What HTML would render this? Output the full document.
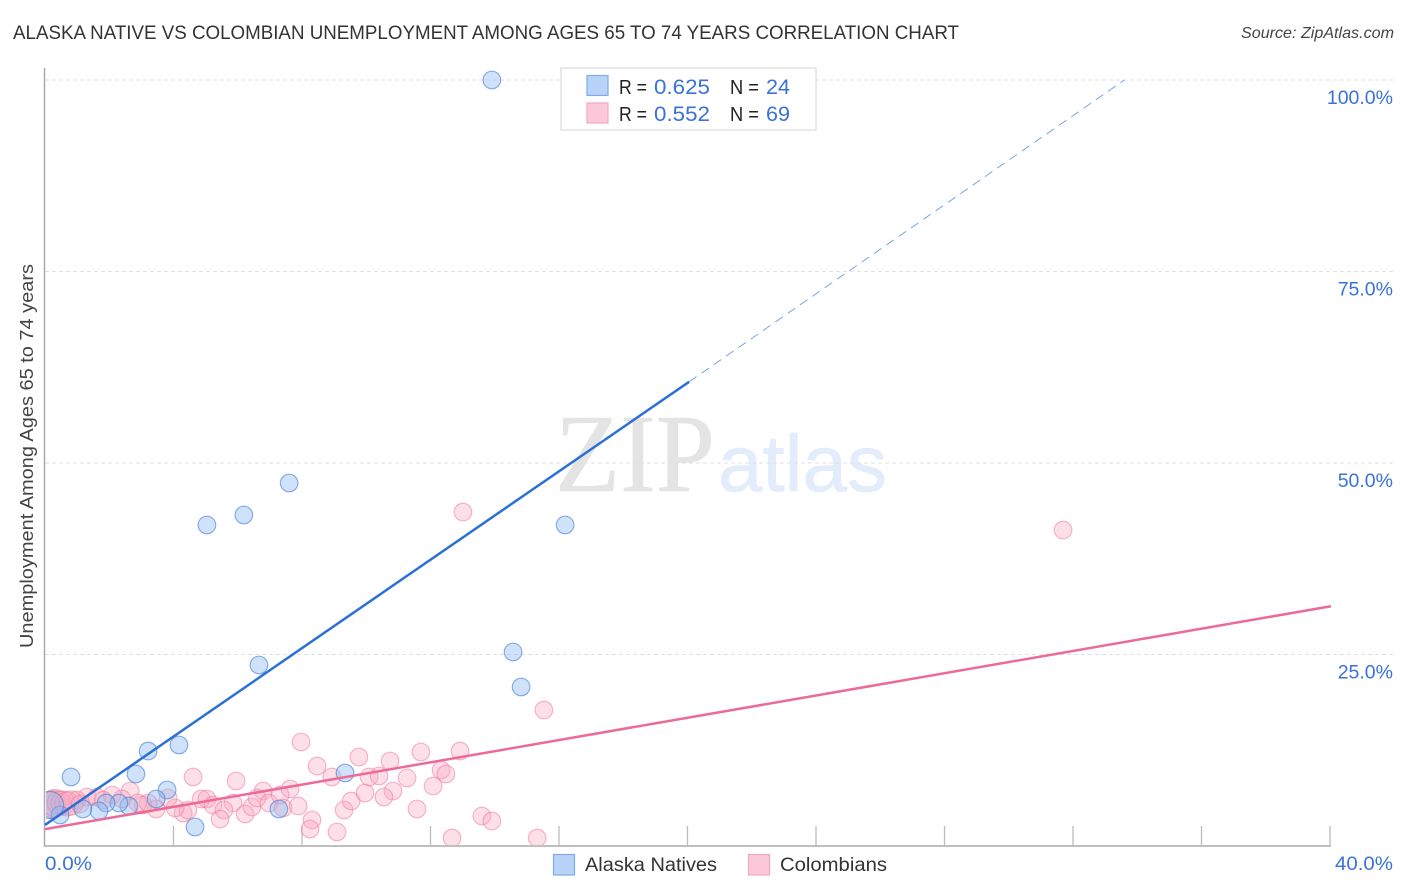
<!DOCTYPE html>
<html lang="en">
<head>
<meta charset="utf-8">
<title>Alaska Native vs Colombian Unemployment Correlation Chart</title>
<style>
html,body{margin:0;padding:0;background:#fff;}
svg{display:block;font-family:"Liberation Sans",sans-serif;}
</style>
</head>
<body>
<svg id="chart" width="1406" height="892" viewBox="0 0 1406 892" xmlns="http://www.w3.org/2000/svg">
  <defs>
    <clipPath id="plot-clip"><rect x="46" y="60" width="1300" height="785"/></clipPath>
  </defs>
  <text x="13" y="39" font-size="19" fill="#333" textLength="946" lengthAdjust="spacingAndGlyphs">ALASKA NATIVE VS COLOMBIAN UNEMPLOYMENT AMONG AGES 65 TO 74 YEARS CORRELATION CHART</text>
  <text x="1241" y="38" font-size="16" font-style="italic" fill="#444" textLength="153" lengthAdjust="spacingAndGlyphs">Source: ZipAtlas.com</text>
  <text x="555" y="491" font-family="'Liberation Serif',serif" font-size="111" fill="#e4e4e4" stroke="#e4e4e4" stroke-width="0.6" textLength="160" lengthAdjust="spacingAndGlyphs">ZIP</text>
  <text x="718" y="491" font-size="80" fill="#e3ecfa" stroke="#e3ecfa" stroke-width="0.7" textLength="169" lengthAdjust="spacingAndGlyphs">atlas</text>
  <g id="grid"></g>
  <g id="axes"></g>
  <g id="points" clip-path="url(#plot-clip)"></g>
  <g id="trends"></g>
  <text transform="translate(33 456) rotate(-90)" font-size="18" fill="#444" text-anchor="middle" textLength="384" lengthAdjust="spacingAndGlyphs">Unemployment Among Ages 65 to 74 years</text>

  <g>
    <rect x="561" y="68" width="255" height="62" fill="#fff" stroke="#e2e2e2" stroke-width="1.5"/>
    <rect x="587" y="75.5" width="21" height="20" fill="#b8d3f8" stroke="#7fabe8" stroke-width="1.2"/>
    <rect x="587" y="103" width="21" height="20" fill="#fdc8d9" stroke="#f4a6c0" stroke-width="1.2"/>
    <text x="619" y="94" font-size="20" fill="#222" textLength="28" lengthAdjust="spacingAndGlyphs">R =</text>
    <text x="654" y="94" font-size="21" fill="#3a72d8" textLength="56" lengthAdjust="spacingAndGlyphs">0.625</text>
    <text x="730" y="94" font-size="20" fill="#222" textLength="29" lengthAdjust="spacingAndGlyphs">N =</text>
    <text x="766" y="94" font-size="21" fill="#3a72d8" textLength="24" lengthAdjust="spacingAndGlyphs">24</text>
    <text x="619" y="121" font-size="20" fill="#222" textLength="28" lengthAdjust="spacingAndGlyphs">R =</text>
    <text x="654" y="121" font-size="21" fill="#3a72d8" textLength="56" lengthAdjust="spacingAndGlyphs">0.552</text>
    <text x="730" y="121" font-size="20" fill="#222" textLength="29" lengthAdjust="spacingAndGlyphs">N =</text>
    <text x="766" y="121" font-size="21" fill="#3a72d8" textLength="24" lengthAdjust="spacingAndGlyphs">69</text>
  </g>

  <g>
    <rect x="553.5" y="854.5" width="21" height="20.5" fill="#b8d3f8" stroke="#7fabe8" stroke-width="1.2"/>
    <text x="585" y="871" font-size="19.5" fill="#333" textLength="132" lengthAdjust="spacingAndGlyphs">Alaska Natives</text>
    <rect x="748.5" y="854.5" width="21" height="20.5" fill="#fdc8d9" stroke="#f4a6c0" stroke-width="1.2"/>
    <text x="780" y="871" font-size="19.5" fill="#333" textLength="107" lengthAdjust="spacingAndGlyphs">Colombians</text>
  </g>
</svg>
<script>
// Data (x = Alaska Native / Colombian share %, y = unemployment %)
const alaskaX = [13.91,7.60,6.19,5.04,16.19,6.66,14.57,14.82,4.17,3.21,2.83,0.81,9.34,3.80,3.46,2.61,2.30,1.90,1.68,1.18,0.47,0.16,4.67,7.28];
const alaskaY = [100.0,47.39,43.21,41.91,41.91,23.63,25.33,20.76,13.19,12.40,9.40,9.01,9.53,7.31,6.14,5.22,5.61,5.61,4.57,4.83,4.05,5.35,2.48,4.83];
const colombianX = [13.01,31.69,15.53,7.97,8.47,4.61,5.95,6.79,7.63,8.93,4.86,5.04,5.85,5.23,5.57,5.45,6.23,6.44,6.60,6.97,7.32,7.41,7.88,8.31,8.25,4.30,4.45,4.05,3.83,3.46,3.05,3.21,2.65,2.09,1.31,1.62,1.00,9.09,9.31,9.53,9.96,9.77,10.09,10.40,10.74,11.70,12.92,12.33,12.48,11.27,12.08,10.83,10.55,11.58,13.60,13.91,12.67,15.32,0.16,0.22,0.31,0.44,0.56,0.68,0.81,1.09,1.81,2.40,2.89];
const colombianY = [43.60,41.25,17.75,13.58,10.44,9.01,8.49,7.18,7.44,9.01,6.14,6.14,5.61,5.35,4.70,3.52,4.18,5.09,6.27,5.61,6.66,4.96,5.22,3.39,2.22,4.31,4.70,4.96,6.27,4.83,5.35,5.61,7.18,6.66,6.40,6.40,6.01,1.83,4.70,5.87,6.92,11.62,9.01,9.14,11.10,12.27,12.40,9.92,9.40,8.88,7.83,7.18,6.40,4.83,3.92,3.26,1.04,1.04,5.35,5.48,5.61,5.61,5.61,5.48,5.61,5.48,6.00,6.14,5.61];
const alaskaTrendX = [0, 20.05];
const alaskaTrendY = [2.75, 60.6];
const alaskaDashX = [20.05, 33.6];
const alaskaDashY = [60.6, 100];
const colombianTrendX = [0, 40.03];
const colombianTrendY = [2.2, 31.3];
const xTickValues = [4,8,12,16,20,24,28,32,36,40];
const yGridValues = [25,50,75,100];
const yTickLabels = ['25.0%','50.0%','75.0%','100.0%'];
const xEndValues = [0,40];
const xEndLabels = ['0.0%','40.0%'];

const NS = 'http://www.w3.org/2000/svg';
function sx(v){ return 45 + v * 32.125; }
function sy(v){ return 846 - v * 7.66; }
// marks hugging the y axis aggregate many records and are drawn larger
function alaskaRadius(x){ return x < 0.4 ? 13.5 : 8.8; }
function colombianRadius(x){ return x < 0.4 ? 13.5 : (x < 1 ? 12 : 8.8); }
function mk(tag, parent, attrs){
  const el = document.createElementNS(NS, tag);
  for (const k in attrs) el.setAttribute(k, attrs[k]);
  parent.appendChild(el);
  return el;
}
const grid = document.getElementById('grid');
const axes = document.getElementById('axes');
const points = document.getElementById('points');
const trends = document.getElementById('trends');

yGridValues.forEach(function(v, i){
  const line = mk('line', grid, {x1:45, x2:1393, y1:sy(v), y2:sy(v), stroke:'#e0e0e0', 'stroke-width':1, 'stroke-dasharray':'4 3'});
  
  
  const label = mk('text', axes, {x:1393, y:sy(v)+24, 'text-anchor':'end', 'font-size':19.5, fill:'#3a72d8'});
  
  
  label.textContent = yTickLabels[i];
});

const yAxis = mk('line', axes, {x1:44.5, x2:44.5, y1:68, y2:846.5, stroke:'#aaa', 'stroke-width':1.5});


const xAxis = mk('line', axes, {x1:44, x2:1331, y1:846, y2:846, stroke:'#aaa', 'stroke-width':1.5});



xTickValues.forEach(function(v){
  const tick = mk('line', axes, {x1:sx(v), x2:sx(v), y1:826, y2:846, stroke:'#bbb', 'stroke-width':1.3});
  
  
});
xEndValues.forEach(function(v, i){
  const label = mk('text', axes, {x: i === 0 ? sx(v) : 1335, y:870, 'font-size':19.5, fill:'#3a72d8', textLength: i === 0 ? 47 : 58, lengthAdjust:'spacingAndGlyphs'});
  
  
  label.textContent = xEndLabels[i];
});

colombianX.forEach(function(x, i){
  const c = mk('circle', points, {cx:sx(x), cy:sy(colombianY[i]), r:colombianRadius(x), fill:'rgba(250,165,190,0.36)', stroke:'rgba(238,125,160,0.55)', 'stroke-width':1.2});
  
  
});
alaskaX.forEach(function(x, i){
  const c = mk('circle', points, {cx:sx(x), cy:sy(alaskaY[i]), r:alaskaRadius(x), fill:'rgba(140,185,240,0.42)', stroke:'rgba(70,130,215,0.62)', 'stroke-width':1.2});
  
  
});

const t1 = mk('line', trends, {x1:sx(colombianTrendX[0]), y1:sy(colombianTrendY[0]), x2:sx(colombianTrendX[1]), y2:sy(colombianTrendY[1]), stroke:'#ec6a97', 'stroke-width':2.5});


const t2 = mk('line', trends, {x1:sx(alaskaTrendX[0]), y1:sy(alaskaTrendY[0]), x2:sx(alaskaTrendX[1]), y2:sy(alaskaTrendY[1]), stroke:'#2a70d6', 'stroke-width':2.5});


const t3 = mk('line', trends, {x1:sx(alaskaDashX[0]), y1:sy(alaskaDashY[0]), x2:sx(alaskaDashX[1]), y2:sy(alaskaDashY[1]), stroke:'#6f9be0', 'stroke-width':0.9, 'stroke-dasharray':'9 6'});


</script>
</body>
</html>
